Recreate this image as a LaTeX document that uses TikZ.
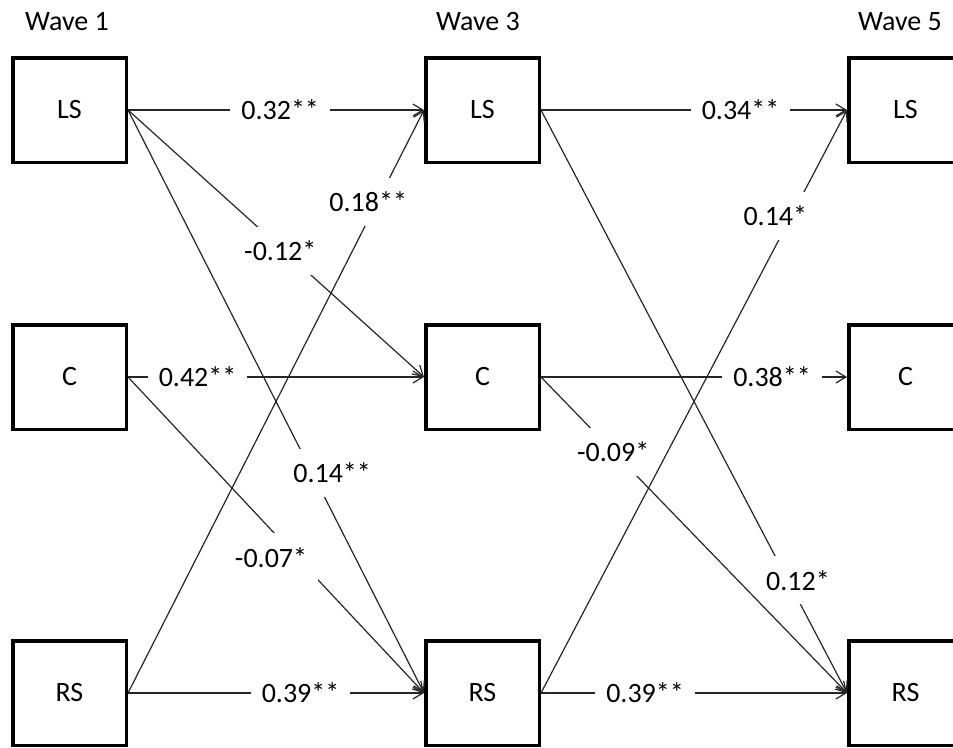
\documentclass[tikz,border=0pt]{standalone}
\usepackage{fontspec}
\setmainfont{Carlito}
\usetikzlibrary{arrows.meta}
\begin{document}
\begin{tikzpicture}[x=1pt,y=-1pt,
  box/.style={draw=black, line width=3.5pt, minimum width=113.5pt, minimum height=104.5pt, inner sep=0pt, font=\fontsize{28}{34}\selectfont},
  wave/.style={font=\fontsize{28}{34}\selectfont, inner sep=0pt},
  link/.style={draw=black!85, line width=1.2pt, -{Straight Barb[length=10pt,width=12pt,line width=1.2pt]}},
  lab/.style={fill=white, inner xsep=11pt, inner ysep=0pt, minimum height=48pt, font=\fontsize{28}{34}\selectfont, text=black},
]
\clip (0,0) rectangle (953,747);
% headers
\node[wave] (w1) at (67,22) {Wave 1};
\node[wave] (w3) at (478,22) {Wave 3};
\node[wave] (w5) at (900,22) {Wave 5};
% boxes
\node[box] (L1) at (69.5,110) {LS};
\node[box] (C1) at (69.5,377) {C};
\node[box] (R1) at (69.5,693) {RS};
\node[box] (L3) at (482.5,110) {LS};
\node[box] (C3) at (482.5,377) {C};
\node[box] (R3) at (482.5,693) {RS};
\node[box] (L5) at (905.5,110) {LS};
\node[box] (C5) at (905.5,377) {C};
\node[box] (R5) at (905.5,693) {RS};
% horizontal paths
\draw[link] (L1.east) -- node[lab,pos=0.514] (t1) {0.32**\hspace{15pt}} (L3.west);
\draw[link] (C1.east) -- node[lab,pos=0.235] (t4) {0.42**\hspace{2pt}} (C3.west);
\draw[link] (R1.east) -- node[lab,pos=0.583] (t7) {0.39**\hspace{15pt}} (R3.west);
\draw[link] (L3.east) -- node[lab,pos=0.652] (t8) {0.34**\hspace{14pt}} (L5.west);
\draw[link] (C3.east) -- node[lab,pos=0.755] (t10) {0.38**\hspace{7pt}} (C5.west);
\draw[link] (R3.east) -- node[lab,pos=0.34] (t13) {0.39**\hspace{16pt}} (R5.west);
% cross-lagged paths wave 1 -> wave 3
\draw[link] (L1.east) -- node[lab,pos=0.528,xshift=-4pt] (t2) {-0.12*} (C3.west);
\draw[link] (L1.east) -- node[lab,pos=0.622,xshift=20pt] (t3) {0.14**} (R3.west);
\draw[link] (C1.east) -- node[lab,pos=0.571,xshift=-26pt] (t5) {-0.07*} (R3.west);
\draw[link] (R1.east) -- node[lab,pos=0.842,xshift=-9pt] (t6) {0.18**} (L3.west);
% cross-lagged paths wave 3 -> wave 5
\draw[link] (L3.east) -- node[lab,pos=0.807,xshift=10pt] (t9) {0.12*} (R5.west);
\draw[link] (C3.east) -- node[lab,pos=0.236] (t11) {-0.09*} (R5.west);
\draw[link] (R3.east) -- node[lab,pos=0.818,xshift=-16pt] (t12) {0.14*} (L5.west);
\end{tikzpicture}
\end{document}
